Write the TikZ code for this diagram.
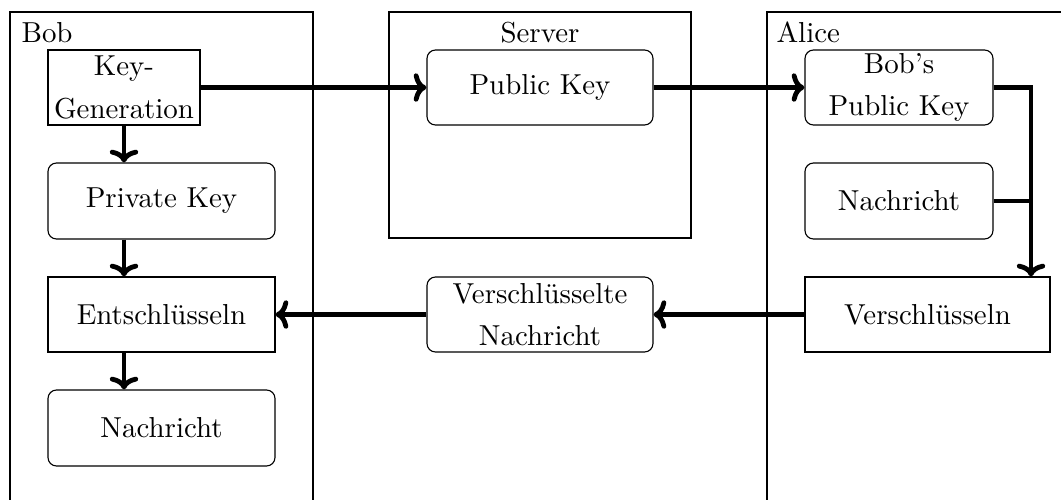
\documentclass[tikz,border=0pt]{standalone}
\usetikzlibrary{arrows.meta}
\begin{document}
\def\u{0.353pt}
\begin{tikzpicture}[x=\u, y=-\u,
  every node/.style={font=\fontsize{10.2}{15}\selectfont, align=center, inner sep=0pt},
  plain/.style={draw, line width=0.4pt, minimum width={#1*\u}, minimum height={75*\u}},
  soft/.style={plain=#1, rounded corners=3pt},
  lane/.style={draw, line width=0.4pt},
  flow/.style={line width=1.7pt, -{To[length=4.5pt,width=10pt]}},
  link/.style={line width=1.7pt}]
  \useasboundingbox (0,0) rectangle (1061,499);
  \clip (0,0) rectangle (1061,499);

  % swimlanes
  \draw[lane] (10,12) rectangle (313,530);
  \draw[lane] (389,12) rectangle (691,238);
  \draw[lane] (767,12) rectangle (1100,530);
  \node[anchor=base west] (lbob) at (21,42) {Bob};
  \node[anchor=base] (lserver) at (540,42) {Server};
  \node[anchor=base west] (lalice) at (776,42) {Alice};

  % Bob
  \node[plain=152] (keygen) at (124,87.5) {Key-\\Generation};
  \node[soft=227, minimum height={76*\u}] (priv) at (161.5,201) {Private Key};
  \node[plain=227] (dec) at (161.5,314.5) {Entschlüsseln};
  \node[soft=227, minimum height={76*\u}] (msgb) at (161.5,428) {Nachricht};

  % Server
  \node[soft=226] (pub) at (540,87.5) {Public Key};
  \node[soft=226] (cipher) at (540,314.5) {Verschlüsselte\\Nachricht};

  % Alice
  \node[soft=188] (bobpub) at (899,87.5) {Bob's\\Public Key};
  \node[soft=188, minimum height={76*\u}] (msga) at (899,201) {Nachricht};
  \node[plain=245] (enc) at (927.5,314.5) {Verschlüsseln};

  % connectors
  \draw[flow] (keygen) -- (pub);
  \draw[flow] (pub) -- (bobpub);
  \draw[flow] (keygen.south) -- (keygen.south |- priv.north);
  \draw[flow] (keygen.south |- priv.south) -- (keygen.south |- dec.north);
  \draw[flow] (keygen.south |- dec.south) -- (keygen.south |- msgb.north);
  \coordinate (j) at (1031,87.5);
  \draw[flow] (bobpub.east) -- (j) -- (j |- enc.north);
  \draw[link] (msga.east) -- (msga.east -| j);
  \draw[flow] (enc.west) -- (cipher.east);
  \draw[flow] (cipher.west) -- (dec.east);
\end{tikzpicture}
\end{document}
